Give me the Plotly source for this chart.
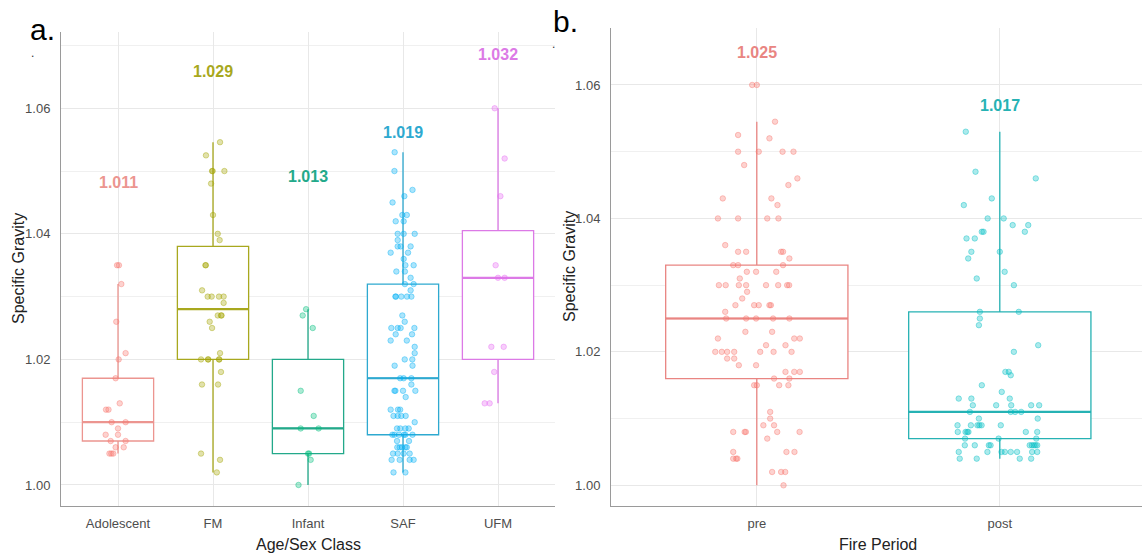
import plotly.graph_objects as go

W, H = 1142, 557

# ---------------- data: panel a (age/sex class) ----------------
classes = ["Adolescent", "FM", "Infant", "SAF", "UFM"]
class_colors = ["#F8766D", "#A3A500", "#00BF7D", "#00B0F6", "#E76BF3"]
class_box_colors = ["#EC9590", "#A8A81E", "#23A98A", "#2EA9D0", "#DC7AE6"]

adolescent_sg = [1.035, 1.035, 1.032, 1.026, 1.021, 1.020, 1.017, 1.013, 1.012, 1.012,
                 1.010, 1.010, 1.009, 1.008, 1.008, 1.007, 1.007, 1.006, 1.006, 1.005,
                 1.005, 1.005]
adolescent_jit = [-0.01, 0.01, 0.035, -0.018, 0.08, 0.007, -0.025, 0.018, -0.126, -0.10,
                  -0.067, 0.08, 0.0, -0.13, 0.0, -0.077, 0.08, -0.025, 0.06, -0.09,
                  -0.07, -0.05]

fm_sg = [1.0546, 1.0525, 1.050, 1.050, 1.050, 1.048, 1.043, 1.040, 1.039, 1.035,
         1.035, 1.031, 1.030, 1.030, 1.030, 1.030, 1.029, 1.027, 1.027, 1.027,
         1.026, 1.025, 1.021, 1.020, 1.020, 1.020, 1.020, 1.020, 1.018, 1.016,
         1.016, 1.005, 1.004, 1.002]
fm_jit = [0.074, -0.074, -0.01, -0.004, 0.12, -0.02, 0.0, 0.05, 0.07, -0.08,
          -0.075, -0.115, -0.056, -0.014, 0.063, 0.112, 0.112, 0.05, 0.09, 0.085,
          -0.035, -0.01, 0.074, -0.126, -0.053, -0.05, 0.063, 0.066, 0.084, -0.116,
          0.053, -0.126, 0.074, 0.04]

infant_sg = [1.028, 1.027, 1.025, 1.015, 1.011, 1.009, 1.009, 1.005, 1.005, 1.004, 1.000]
infant_jit = [-0.02, -0.056, 0.05, -0.077, 0.06, -0.077, 0.112, 0.0, 0.012, 0.028, -0.1]

saf_sg = [1.053, 1.050, 1.047, 1.046, 1.045, 1.043, 1.043, 1.042, 1.042, 1.040,
          1.040, 1.040, 1.039, 1.038, 1.038, 1.038, 1.037, 1.037, 1.036, 1.035,
          1.035, 1.034, 1.034, 1.033, 1.032, 1.032, 1.031, 1.030, 1.030, 1.030,
          1.030, 1.030, 1.027, 1.026, 1.025, 1.025, 1.025, 1.025, 1.024, 1.024,
          1.023, 1.023, 1.022, 1.021, 1.020, 1.020, 1.019, 1.019, 1.017, 1.017,
          1.017, 1.016, 1.015, 1.015, 1.015, 1.015, 1.014, 1.012, 1.012, 1.012,
          1.011, 1.011, 1.011, 1.011, 1.010, 1.009, 1.009, 1.009, 1.009, 1.008,
          1.008, 1.008, 1.008, 1.008, 1.008, 1.007, 1.007, 1.006, 1.006, 1.006,
          1.006, 1.006, 1.005, 1.005, 1.005, 1.005, 1.004, 1.004, 1.004, 1.004,
          1.002, 1.002]
saf_jit = [-0.088, -0.09, 0.10, 0.014, -0.11, -0.007, 0.04, -0.077, 0.007, -0.056,
           0.007, 0.123, -0.056, -0.056, -0.025, 0.08, -0.13, 0.053, 0.007, 0.025,
           0.112, -0.07, 0.02, 0.08, 0.02, 0.112, 0.08, -0.08, -0.074, -0.018,
           0.042, 0.088, -0.007, 0.018, -0.123, -0.056, -0.025, 0.12, 0.095, -0.077,
           -0.13, 0.04, 0.123, 0.123, 0.018, 0.098, 0.1, -0.088, -0.03, 0.007,
           0.088, 0.088, -0.09, -0.08, 0.0, 0.13, 0.028, -0.13, -0.053, -0.03,
           -0.1, -0.056, -0.018, 0.028, 0.123, -0.063, -0.028, 0.025, 0.06, -0.112,
           -0.09, -0.042, 0.01, 0.025, 0.1, -0.063, 0.063, -0.06, -0.035, -0.01,
           0.025, 0.04, -0.105, -0.056, 0.007, 0.07, -0.12, -0.035, 0.07, 0.112,
           -0.1, 0.025]

ufm_sg = [1.060, 1.052, 1.046, 1.035, 1.033, 1.033, 1.022, 1.022, 1.018, 1.013, 1.013]
ufm_jit = [-0.035, 0.07, 0.025, -0.025, 0.0, 0.07, -0.07, 0.06, -0.04, -0.14, -0.088]

class_points = [adolescent_sg, fm_sg, infant_sg, saf_sg, ufm_sg]
class_jitter = [adolescent_jit, fm_jit, infant_jit, saf_jit, ufm_jit]

class_q1 = [1.007, 1.020, 1.005, 1.008, 1.020]
class_median = [1.010, 1.028, 1.009, 1.017, 1.033]
class_q3 = [1.017, 1.038, 1.020, 1.032, 1.0405]
class_lower = [1.005, 1.002, 1.000, 1.002, 1.013]
class_upper = [1.032, 1.0546, 1.028, 1.053, 1.060]
class_mean = [1.011, 1.029, 1.013, 1.019, 1.032]
class_label_y = [1.0481, 1.0659, 1.0492, 1.0562, 1.0685]

# ---------------- data: panel b (fire period) ----------------
periods = ["pre", "post"]
period_colors = ["#F8766D", "#00BFC4"]
period_box_colors = ["#E98582", "#26B2B4"]

pre_sg = [1.060, 1.060, 1.0545, 1.0525, 1.052, 1.050, 1.050, 1.050, 1.050, 1.048,
          1.046, 1.045, 1.043, 1.043, 1.042, 1.040, 1.040, 1.040, 1.040, 1.036,
          1.035, 1.035, 1.035, 1.035, 1.034, 1.033, 1.033, 1.033, 1.032, 1.032,
          1.032, 1.031, 1.030, 1.030, 1.030, 1.030, 1.030, 1.030, 1.030, 1.030,
          1.029, 1.028, 1.027, 1.027, 1.027, 1.027, 1.027, 1.026, 1.025, 1.025,
          1.025, 1.025, 1.025, 1.023, 1.023, 1.022, 1.022, 1.022, 1.021, 1.021,
          1.020, 1.020, 1.020, 1.020, 1.020, 1.020, 1.020, 1.019, 1.019, 1.018,
          1.018, 1.017, 1.017, 1.017, 1.016, 1.016, 1.015, 1.015, 1.015, 1.015,
          1.011, 1.010, 1.009, 1.009, 1.008, 1.008, 1.008, 1.008, 1.008, 1.007,
          1.005, 1.005, 1.005, 1.004, 1.004, 1.004, 1.002, 1.002, 1.002, 1.000]
pre_jit = [-0.019, 0.0, 0.075, -0.077, 0.052, -0.077, 0.008, 0.106, 0.151, -0.052,
           0.167, 0.13, -0.14, 0.06, 0.085, -0.16, -0.077, 0.043, 0.089, -0.13,
           -0.077, -0.044, 0.1, 0.108, 0.134, -0.097, -0.077, 0.108, -0.041, -0.003,
           0.08, -0.07, -0.156, -0.128, -0.074, -0.044, 0.038, 0.088, 0.125, 0.133,
           -0.04, -0.06, -0.088, -0.011, 0.008, 0.052, 0.058, -0.13, -0.126, -0.044,
           -0.003, 0.067, 0.134, -0.047, 0.063, -0.16, 0.154, 0.177, 0.038, 0.118,
           -0.171, -0.144, -0.122, -0.093, 0.014, 0.069, 0.143, -0.122, -0.093, -0.074,
           -0.003, 0.118, 0.154, 0.177, 0.071, 0.134, -0.011, 0.0, 0.092, 0.13,
           0.055, 0.055, 0.027, 0.071, -0.097, -0.05, -0.045, 0.084, 0.176, 0.043,
           -0.097, 0.122, 0.155, -0.097, -0.085, -0.08, 0.063, 0.1, 0.117, 0.11]

post_sg = [1.053, 1.047, 1.046, 1.043, 1.042, 1.040, 1.040, 1.039, 1.039, 1.038,
           1.038, 1.038, 1.037, 1.037, 1.035, 1.035, 1.034, 1.032, 1.031, 1.030,
           1.026, 1.026, 1.025, 1.024, 1.021, 1.020, 1.017, 1.017, 1.0165, 1.015,
           1.014, 1.013, 1.013, 1.013, 1.012, 1.012, 1.012, 1.012, 1.012, 1.011,
           1.011, 1.011, 1.011, 1.010, 1.010, 1.009, 1.009, 1.009, 1.009, 1.009,
           1.009, 1.008, 1.008, 1.008, 1.008, 1.008, 1.008, 1.007, 1.007, 1.007,
           1.006, 1.006, 1.006, 1.006, 1.006, 1.006, 1.006, 1.006, 1.006, 1.005,
           1.005, 1.005, 1.005, 1.005, 1.005, 1.005, 1.005, 1.004, 1.004, 1.004,
           1.004]
post_jit = [-0.14, -0.1, 0.148, -0.033, -0.148, -0.05, 0.016, 0.053, 0.117, -0.074,
            -0.067, 0.103, -0.137, -0.103, -0.117, 0.0, -0.13, 0.02, -0.095, 0.058,
            -0.082, 0.078, -0.082, -0.086, 0.158, 0.058, 0.023, 0.037, 0.045, -0.074,
            0.008, -0.169, -0.117, 0.041, -0.111, -0.015, 0.047, 0.129, 0.162, -0.123,
            0.045, 0.063, 0.088, -0.086, 0.156, -0.174, -0.119, -0.092, -0.084, -0.075,
            0.004, -0.173, -0.141, -0.134, -0.129, 0.107, 0.154, -0.143, -0.005, 0.15,
            -0.144, -0.103, -0.045, -0.038, 0.123, 0.132, 0.14, 0.147, 0.154, -0.169,
            -0.051, 0.007, 0.021, 0.045, 0.071, 0.133, 0.154, -0.165, -0.095, 0.082,
            0.129]

period_points = [pre_sg, post_sg]
period_jitter = [pre_jit, post_jit]

period_q1 = [1.016, 1.007]
period_median = [1.025, 1.011]
period_q3 = [1.033, 1.026]
period_lower = [1.000, 1.004]
period_upper = [1.0545, 1.053]
period_mean = [1.025, 1.017]
period_label_y = [1.0649, 1.0569]

# ---------------- styling ----------------
FONT = "Liberation Sans, Arial, Helvetica, sans-serif"
GRID = "#e8e8e8"
MINOR_GRID = "#f0f0f0"
AXIS_LINE = "#9a9a9a"
TICK_COL = "#4d4d4d"
BOX_W = 0.75


def rgba(hex_col, a):
    h = hex_col.lstrip("#")
    r, g, b = int(h[0:2], 16), int(h[2:4], 16), int(h[4:6], 16)
    return f"rgba({r},{g},{b},{a})"


def px_x(p):
    return p / W


def px_y(p):
    return 1 - p / H


fig = go.Figure()


def add_panel(xa, ya, names, colors, box_colors, q1, med, q3, lo, hi, pts, jit,
              means, label_y):
    for i, name in enumerate(names):
        pos = i + 1
        c = colors[i]
        bc = box_colors[i]
        fig.add_trace(go.Box(
            x=[pos], q1=[q1[i]], median=[med[i]], q3=[q3[i]],
            lowerfence=[lo[i]], upperfence=[hi[i]],
            width=BOX_W, whiskerwidth=0, boxpoints=False,
            fillcolor="white", line=dict(color=bc, width=1.3),
            xaxis=xa, yaxis=ya, hoverinfo="skip", name=name,
        ))
        # heavier median bar, as in ggplot's fatten
        fig.add_trace(go.Scatter(
            x=[pos - BOX_W / 2, pos + BOX_W / 2], y=[med[i], med[i]],
            mode="lines", line=dict(color=bc, width=2.2),
            xaxis=xa, yaxis=ya, hoverinfo="skip",
        ))
        fig.add_trace(go.Scatter(
            x=[pos + j for j in jit[i]], y=pts[i], mode="markers",
            marker=dict(size=5.5, color=rgba(c, 0.33),
                        line=dict(color=rgba(c, 0.5), width=0.8)),
            xaxis=xa, yaxis=ya, hoverinfo="skip",
        ))
        fig.add_annotation(
            x=pos, y=label_y[i], xref=xa, yref=ya, text=f"<b>{means[i]:.3f}</b>",
            showarrow=False, font=dict(family=FONT, size=16, color=bc),
            xanchor="center", yanchor="middle",
        )


add_panel("x", "y", classes, class_colors, class_box_colors, class_q1, class_median,
          class_q3, class_lower, class_upper, class_points, class_jitter, class_mean,
          class_label_y)
add_panel("x2", "y2", periods, period_colors, period_box_colors, period_q1,
          period_median, period_q3, period_lower, period_upper, period_points,
          period_jitter, period_mean, period_label_y)

common_x = dict(showgrid=True, gridcolor=GRID, gridwidth=1, showline=True,
                linecolor=AXIS_LINE, linewidth=1, zeroline=False, ticks="",
                tickfont=dict(family=FONT, size=13, color=TICK_COL),
                ticklabelstandoff=5, fixedrange=True)
common_y = dict(showgrid=True, gridcolor=GRID, gridwidth=1, showline=True,
                linecolor=AXIS_LINE, linewidth=1, zeroline=False, ticks="",
                tick0=1.0, dtick=0.02, tickformat=".2f",
                minor=dict(tick0=1.0, dtick=0.01, showgrid=True,
                           gridcolor=MINOR_GRID, gridwidth=1),
                tickfont=dict(family=FONT, size=13, color=TICK_COL),
                ticklabelstandoff=7, fixedrange=True)

fig.update_layout(
    width=W, height=H, margin=dict(l=0, r=0, t=0, b=0),
    paper_bgcolor="white", plot_bgcolor="white", showlegend=False,
    xaxis=dict(domain=[px_x(61), px_x(555)], range=[0.4, 5.6], anchor="y",
               tickvals=list(range(1, len(classes) + 1)), ticktext=classes, **common_x),
    yaxis=dict(domain=[px_y(506), px_y(32)], range=[0.99665, 1.07215], anchor="x",
               **common_y),
    xaxis2=dict(domain=[px_x(611), 1.0], range=[0.4, 0.4 + (W - 611) / 243], anchor="y2",
                tickvals=list(range(1, len(periods) + 1)), ticktext=periods, **common_x),
    yaxis2=dict(domain=[px_y(506), px_y(28)], range=[0.9969, 1.06854], anchor="x2",
                **common_y),
)

# axis titles and panel tags
title_font = dict(family=FONT, size=16, color="#222222")
for txt, x, y, ang in [("Specific Gravity", 18, 269, -90),
                       ("Specific Gravity", 569, 267, -90),
                       ("Age/Sex Class", 308, 544, 0),
                       ("Fire Period", 878, 544, 0)]:
    fig.add_annotation(x=px_x(x), y=px_y(y), xref="paper", yref="paper", text=txt,
                       textangle=ang, showarrow=False, font=title_font,
                       xanchor="center", yanchor="middle")

for txt, x, y in [("a.", 28, 30), ("b.", 551, 22)]:
    fig.add_annotation(x=px_x(x), y=px_y(y), xref="paper", yref="paper", text=txt,
                       showarrow=False, font=dict(family=FONT, size=30, color="black"),
                       xanchor="left", yanchor="middle")

for x, y in [(32, 53), (553, 44)]:
    fig.add_annotation(x=px_x(x), y=px_y(y), xref="paper", yref="paper", text=".",
                       showarrow=False, font=dict(family=FONT, size=12, color="#333333"),
                       xanchor="center", yanchor="middle")

fig.write_html("out.html")
